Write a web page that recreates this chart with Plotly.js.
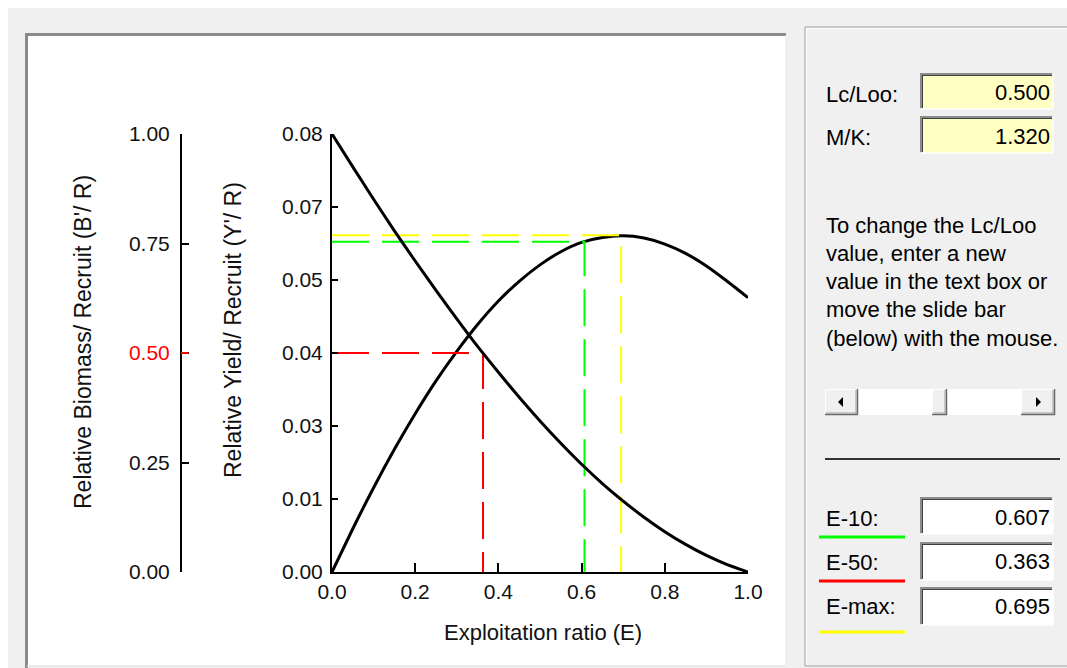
<!DOCTYPE html>
<html>
<head>
<meta charset="utf-8">
<script src="https://cdn.plot.ly/plotly-3.0.1.min.js"></script>
<style>html,body{margin:0;padding:0;background:#f0f0f0;}#chart{width:1067px;height:668px;}</style>
</head>
<body>
<div id="chart"></div>
<script>
// ---------- data ----------
const exploitationRatio = [0.00,0.05,0.10,0.15,0.20,0.25,0.30,0.35,0.40,0.45,0.50,0.55,0.60,0.65,0.70,0.75,0.80,0.85,0.90,0.95,1.00];
const yieldPerRecruit   = [0.0000,0.0079,0.0154,0.0224,0.0289,0.0349,0.0403,0.0452,0.0495,0.0531,0.0561,0.0585,0.0602,0.0611,0.0614,0.0610,0.0599,0.0582,0.0559,0.0531,0.0501];
const biomassPerRecruit = [1.000,0.925,0.851,0.779,0.710,0.643,0.578,0.515,0.456,0.399,0.345,0.294,0.246,0.202,0.162,0.125,0.092,0.063,0.038,0.017,0.000];

const refNames  = ['E-10','E-50','E-max'];
const refE      = [0.607, 0.363, 0.695];
const refYield  = [0.0603, 0.04, 0.0615];   // level of each reference line on the Y'/R axis
const refColors = ['#00ff00', '#ff0000', '#ffff00'];

const yieldTickVals = [0, 0.01333, 0.02667, 0.04, 0.05333, 0.06667, 0.08];
const yieldTickText = ['0.00','0.01','0.03','0.04','0.05','0.07','0.08'];
const biomassTickVals = [0, 0.25, 0.5, 0.75, 1];
const biomassTickText = ['0.00','0.25','<span style="color:#ff0000">0.50</span>','0.75','1.00'];
const biomassHighlight = 0.5;
const xTickVals = [0, 0.2, 0.4, 0.6, 0.8, 1.0];
const xTickText = ['0.0','0.2','0.4','0.6','0.8','1.0'];

const lcLoo = '0.500';
const mK = '1.320';
const helpLines = ['To change the Lc/Loo','value, enter a new','value in the text box or','move the slide bar','(below) with the mouse.'];

// ---------- layout helpers ----------
const W = 1067, H = 668;
const px = x => x / W;
const py = y => 1 - y / H;
const shapes = [];
function rect(x0,y0,x1,y1,fill,lineColor,lw){
  shapes.push({type:'rect',xref:'paper',yref:'paper',x0:px(x0),x1:px(x1),y0:py(y1),y1:py(y0),
    fillcolor:fill,line:{color:lineColor||'rgba(0,0,0,0)',width:lw||0},layer:'below'});
}
function seg(x0,y0,x1,y1,color,w,layer){
  shapes.push({type:'line',xref:'paper',yref:'paper',x0:px(x0),x1:px(x1),y0:py(y0),y1:py(y1),
    line:{color:color,width:w},layer:layer||'below'});
}
function sunkenBox(x0,y0,x1,y1,fill){
  rect(x0,y0,x1,y1,fill);
  seg(x0,y0+1,x1,y0+1,'#8c8c8c',2);
  seg(x0+1,y0,x0+1,y1,'#8c8c8c',2);
  seg(x0+2,y0+2.5,x1-1,y0+2.5,'#404040',1);
  seg(x0+2.5,y0+2,x0+2.5,y1-1,'#404040',1);
  seg(x0,y1,x1,y1,'#ffffff',1.5);
  seg(x1,y0,x1,y1,'#ffffff',1.5);
}
function raisedBox(x0,y0,x1,y1){
  rect(x0,y0,x1,y1,'#f0f0f0');
  seg(x0,y0+0.5,x1,y0+0.5,'#ffffff',1);
  seg(x0+0.5,y0,x0+0.5,y1,'#ffffff',1);
  seg(x0,y1-0.5,x1,y1-0.5,'#696969',1.5);
  seg(x1-0.5,y0,x1-0.5,y1,'#696969',1.5);
  seg(x0+1,y1-2,x1-1,y1-2,'#a0a0a0',1);
  seg(x1-2,y0+1,x1-2,y1-1,'#a0a0a0',1);
}

// window frame
rect(0,0,W,8,'#ffffff');
rect(0,0,8,H,'#ffffff');
// left (plot) panel
rect(27,35,786,666,'#ffffff');
seg(25,34.5,786,34.5,'#8a8a8a',3);
seg(26.5,33,26.5,668,'#8a8a8a',3);
seg(786,35,786,666,'#e6e6e6',1);
seg(27,666,786,666,'#e6e6e6',1.5);
// right (controls) panel
rect(805,27,W+2,666,'#f0f0f0','#a0a0a0',1);
seg(806.5,28,806.5,665,'#ffffff',1);
seg(806,28.5,W,28.5,'#ffffff',1);
// inputs
sunkenBox(920,73,1053,109,'#ffffc4');
sunkenBox(920,116,1053,153,'#ffffc4');
// slider
rect(825,389,1055,415,'#ffffff');
raisedBox(825,389,858,415);
raisedBox(1021,389,1055,415);
raisedBox(932,389,947,415);
shapes.push({type:'path',xref:'paper',yref:'paper',layer:'below',
  path:`M ${px(838)} ${py(402)} L ${px(843)} ${py(397)} L ${px(843)} ${py(407)} Z`,fillcolor:'#000',line:{width:0}});
shapes.push({type:'path',xref:'paper',yref:'paper',layer:'below',
  path:`M ${px(1041)} ${py(402)} L ${px(1036)} ${py(397)} L ${px(1036)} ${py(407)} Z`,fillcolor:'#000',line:{width:0}});
// separator
seg(825,459,1060,459,'#333333',2);
// result boxes + underlines
sunkenBox(920,497,1053,534,'#ffffff');
sunkenBox(920,542,1053,580,'#ffffff');
sunkenBox(920,587,1053,625,'#ffffff');
seg(819,537,905,537,refColors[0],3);
seg(819,581,905,581,refColors[1],3);
seg(819,632,905,632,refColors[2],3);
// red tick on the biomass axis at the 50% level
shapes.push({type:'line',xref:'paper',yref:'y2',x0:px(181),x1:px(188.5),y0:biomassHighlight,y1:biomassHighlight,
  line:{color:'#ff0000',width:2},layer:'above'});

// ---------- annotations ----------
const uiFont = {family:'Liberation Sans, Arial, sans-serif', size:22, color:'#000'};
const annotations = [];
function label(text,x,y,anchor,font){
  annotations.push({text:text,xref:'paper',yref:'paper',x:px(x),y:py(y),xanchor:anchor||'left',yanchor:'middle',
    showarrow:false,font:font||uiFont});
}
label('Lc/Loo:',824,94);
label('M/K:',824,137);
label(lcLoo,1052,93,'right');
label(mK,1052,136,'right');
helpLines.forEach((t,i)=>label(t,824,226+i*28));
label(refNames[0]+':',824,518);
label(refNames[1]+':',824,562);
label(refNames[2]+':',824,606);
label(refE[0].toFixed(3),1052,517,'right');
label(refE[1].toFixed(3),1052,561,'right');
label(refE[2].toFixed(3),1052,606,'right');

const titleFont = {family:'Liberation Sans, Arial, sans-serif', size:23, color:'#111'};
annotations.push({text:"Relative Biomass/ Recruit (B'/ R)",xref:'paper',yref:'paper',x:px(83),y:py(342),
  xanchor:'center',yanchor:'middle',textangle:-90,showarrow:false,font:titleFont});
annotations.push({text:"Relative Yield/ Recruit (Y'/ R)",xref:'paper',yref:'paper',x:px(233),y:py(330),
  xanchor:'center',yanchor:'middle',textangle:-90,showarrow:false,font:titleFont});
annotations.push({text:'Exploitation ratio (E)',xref:'paper',yref:'paper',x:px(543),y:py(632),
  xanchor:'center',yanchor:'middle',showarrow:false,font:{...titleFont,size:22}});

// ---------- traces ----------
const traces = [
  {x:exploitationRatio,y:yieldPerRecruit,xaxis:'x',yaxis:'y',mode:'lines',line:{color:'#000',width:3,shape:'spline',smoothing:0.6},name:"Y'/R",hoverinfo:'skip'},
  {x:exploitationRatio,y:biomassPerRecruit,xaxis:'x',yaxis:'y2',mode:'lines',line:{color:'#000',width:3,shape:'spline',smoothing:0.6},name:"B'/R",hoverinfo:'skip'}
];
refE.forEach((e,i)=>{
  traces.push({x:[0,e,e],y:[refYield[i],refYield[i],0],xaxis:'x',yaxis:'y',mode:'lines',
    line:{color:refColors[i],width:2,dash:'37px,13px'},name:refNames[i],hoverinfo:'skip'});
});

const tickFont = {family:'Liberation Sans, Arial, sans-serif', size:21, color:'#111'};
const layout = {
  width:W,height:H,margin:{l:0,r:0,t:0,b:0},
  paper_bgcolor:'#f0f0f0',plot_bgcolor:'rgba(0,0,0,0)',
  showlegend:false,
  xaxis:{domain:[px(332),px(748)],range:[0,1],showgrid:false,zeroline:false,showline:true,linecolor:'#000',linewidth:2,
    ticks:'inside',ticklen:9,tickwidth:2,tickcolor:'#000',tickvals:xTickVals,ticktext:xTickText,tickfont:tickFont,
    ticklabelstandoff:0,automargin:false,fixedrange:true},
  yaxis:{domain:[py(572),py(134)],range:[0,0.08],showgrid:false,zeroline:false,showline:true,linecolor:'#000',linewidth:2,
    ticks:'inside',ticklen:6,tickwidth:2,tickcolor:'#000',tickvals:yieldTickVals,ticktext:yieldTickText,tickfont:tickFont,
    ticklabelstandoff:3,automargin:false,fixedrange:true},
  yaxis2:{domain:[py(572),py(134)],range:[0,1],overlaying:'y',anchor:'free',position:px(181),side:'left',
    showgrid:false,zeroline:false,showline:true,linecolor:'#000',linewidth:2,
    ticks:'inside',ticklen:7,tickwidth:2,tickcolor:'#000',tickvals:biomassTickVals,ticktext:biomassTickText,tickfont:tickFont,
    ticklabelstandoff:6,automargin:false,fixedrange:true},
  shapes:shapes,
  annotations:annotations
};
Plotly.newPlot('chart',traces,layout,{staticPlot:true,displayModeBar:false});
</script>
</body>
</html>
